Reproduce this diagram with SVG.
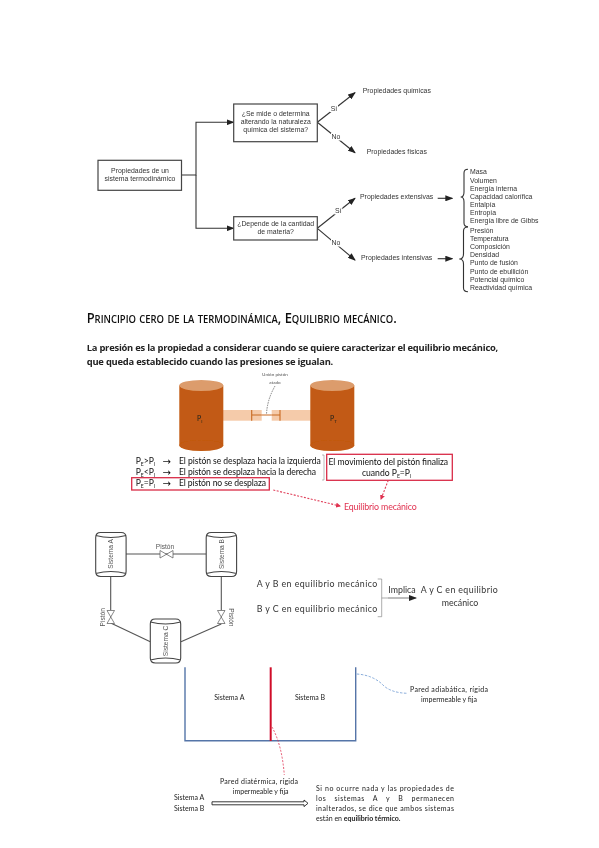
<svg xmlns="http://www.w3.org/2000/svg" width="599" height="848" viewBox="0 0 599 848">
<style>
.box{fill:#fff;stroke:#444;stroke-width:1.2}
.c{fill:none;stroke:#333;stroke-width:1.1}
.t{font-family:"Liberation Sans",Arial,sans-serif;font-size:6.9px;fill:#333}
.m{text-anchor:middle}
.cal{font-family:Lato,"Liberation Sans",sans-serif;fill:#111}
.b9{font-family:"Open Sans","Liberation Sans",sans-serif;font-size:9.4px;font-weight:700;fill:#222}
.p{font-size:8.6px;fill:#111}
.s{font-size:7px;fill:#222}
.sys{font-family:"Liberation Sans",Arial,sans-serif;font-size:6.6px;fill:#555}
.eq{font-family:Lato,"Liberation Sans",sans-serif;font-size:8.8px;fill:#333}
.red{fill:none;stroke:#d92c48;stroke-width:1.3}
.reddash{fill:none;stroke:#e0405a;stroke-width:1.1;stroke-dasharray:2 1.5}
.pipe{fill:none;stroke:#555;stroke-width:1.1}
.wall{fill:none;stroke:#5474a8;stroke-width:1.4}
</style>
<defs>
<marker id="ah" markerWidth="8" markerHeight="6" refX="7" refY="3" orient="auto" markerUnits="userSpaceOnUse"><path d="M0 0L8 3L0 6Z" fill="#222"/></marker>
<marker id="ar" markerWidth="5" markerHeight="5" refX="4" refY="2.5" orient="auto" markerUnits="userSpaceOnUse"><path d="M0 0L5 2.5L0 5Z" fill="#e0304f"/></marker>
<path id="tank" d="M0 5Q0 0 5 0H25.4Q30.4 0 30.4 5V39Q30.4 44 25.4 44H5Q0 44 0 39ZM0 3Q15.2 7 30.4 3M0 41Q15.2 37 30.4 41" fill="#fff" stroke="#444" stroke-width="1.1"/>
<path id="valve" d="M0 0L13 7.5V0L0 7.5Z" fill="#fff" stroke="#555" stroke-width=".7"/>
<g id="cyl"><rect x="0" y="5.5" width="44" height="60" fill="#c25a12"/><ellipse cx="22" cy="65.5" rx="22" ry="5.5" fill="#c25a12"/><ellipse cx="22" cy="5.5" rx="22" ry="5.5" fill="#dc9c6c"/></g>
<filter id="soft" x="0" y="0" width="100%" height="100%" filterUnits="userSpaceOnUse"><feGaussianBlur stdDeviation=".4"/></filter>
</defs>
<rect width="599" height="848" fill="#fff"/>
<g filter="url(#soft)">
<g id="connectors">
<path class="c" d="M181.5 175H196V122.3H233.5" marker-end="url(#ah)"/>
<path class="c" d="M196 175V228.3H233.5" marker-end="url(#ah)"/>
<path class="c" d="M317.3 122.3L355 92.7" marker-end="url(#ah)"/>
<path class="c" d="M317.3 122.3L355 152.7" marker-end="url(#ah)"/>
<path class="c" d="M317.3 228.3L355 198.3" marker-end="url(#ah)"/>
<path class="c" d="M317.3 228.3L355 260" marker-end="url(#ah)"/>
<path class="c" d="M437.7 198.3H452.3" marker-end="url(#ah)"/>
<path class="c" d="M437.7 258.7H452.3" marker-end="url(#ah)"/>
<path class="c" stroke-width=".8" d="M468 169.3Q464 169.3 464 173V192Q464 197 460.7 197Q464 197 464 202V223Q464 226.7 468 226.7"/>
<path class="c" stroke-width=".8" d="M468 227Q463.5 227 463.5 231V254Q463.5 259 459.3 259Q463.5 259 463.5 264V288Q463.5 291.7 468 291.7"/>
</g>
<g id="n-props"><rect class="box" x="98" y="160.3" width="83.5" height="30"/><text class="t m" x="140" y="173">Propiedades de un</text><text class="t m" x="140" y="181">sistema termodinámico</text></g>
<g id="n-q1"><rect class="box" x="233.7" y="104" width="83.6" height="37.7"/><text class="t m" x="275.7" y="116.2">¿Se mide o determina</text><text class="t m" x="275.7" y="124.2">alterando la naturaleza</text><text class="t m" x="275.7" y="132.2">química del sistema?</text></g>
<g id="n-q2"><rect class="box" x="233.7" y="216.7" width="83.6" height="23.3"/><text class="t m" x="275.7" y="225.8">¿Depende de la cantidad</text><text class="t m" x="275.7" y="233.8">de materia?</text></g>
<g id="edge-labels">
<rect x="330" y="104" width="8" height="8" fill="#fff"/><text class="t m" x="334" y="110.5">Sí</text>
<rect x="331" y="133" width="10" height="7.5" fill="#fff"/><text class="t m" x="336" y="139.2">No</text>
<rect x="334.3" y="206.5" width="8" height="8" fill="#fff"/><text class="t m" x="338.3" y="212.8">Sí</text>
<rect x="331" y="239" width="10" height="7.5" fill="#fff"/><text class="t m" x="336" y="245.2">No</text>
</g>
<g id="n-quim"><text class="t" x="362.7" y="93.3">Propiedades químicas</text></g>
<g id="n-fis"><text class="t" x="366.7" y="154">Propiedades físicas</text></g>
<g id="n-ext"><text class="t" x="360" y="199.3">Propiedades extensivas</text></g>
<g id="n-int"><text class="t" x="361" y="260">Propiedades intensivas</text></g>
<g id="n-list1" class="t"><text x="470" y="174.4">Masa</text><text x="470" y="182.6">Volumen</text><text x="470" y="190.7">Energía interna</text><text x="470" y="198.9">Capacidad calorífica</text><text x="470" y="207">Entalpía</text><text x="470" y="215.1">Entropía</text><text x="470" y="223.3">Energía libre de Gibbs</text></g>
<g id="n-list2" class="t"><text x="470" y="232.7">Presión</text><text x="470" y="240.9">Temperatura</text><text x="470" y="249.1">Composición</text><text x="470" y="257.2">Densidad</text><text x="470" y="265.4">Punto de fusión</text><text x="470" y="273.5">Punto de ebullición</text><text x="470" y="281.7">Potencial químico</text><text x="470" y="290">Reactividad química</text></g>

<text id="title" x="86.7" y="322.7" textLength="310" lengthAdjust="spacingAndGlyphs" font-family="'Open Sans','Liberation Sans',sans-serif" font-size="15" font-weight="600" style="font-variant:small-caps" fill="#111">Principio cero de la termodinámica, Equilibrio mecánico.</text>
<text class="b9" x="86.7" y="350.7" textLength="411.6">La presión es la propiedad a considerar cuando se quiere caracterizar el equilibrio mecánico,</text>
<text class="b9" x="86.7" y="365" textLength="246.6">que queda establecido cuando las presiones se igualan.</text>

<g id="n-pistons">
<rect x="220.7" y="410" width="41" height="10.7" fill="#f5cbaa"/><rect x="271.7" y="410" width="41" height="10.7" fill="#f5cbaa"/>
<path d="M251.7 410V420.7M252 415H261.7M280 410V420.7M271.7 415H280" fill="none" stroke="#c86a20" stroke-width="1.1"/>
<path d="M261.7 415H271.7" fill="none" stroke="#c86a20" stroke-width="1"/>
<use href="#cyl" x="179.3" y="380"/><use href="#cyl" x="310.3" y="380"/>
<text class="cal s" x="197" y="421">P<tspan font-size="4.5" dy="1.5">I</tspan></text>
<text class="cal s" x="330" y="421">P<tspan font-size="4.5" dy="1.5">T</tspan></text>
<text class="m" x="275" y="376" font-family="Lato,sans-serif" font-size="4.6" fill="#555">Unión pistón</text><text class="m" x="275" y="383.5" font-family="Lato,sans-serif" font-size="4.6" fill="#555">atado</text>
<path d="M275 386Q267 400 266.5 414.5" fill="none" stroke="#333" stroke-width=".6" stroke-dasharray="1.5 1"/>
</g>
<g id="n-cases" class="cal p">
<text x="135.7" y="464">P<tspan font-size="5" dy="1.5">E</tspan><tspan dy="-1.5">&gt;P</tspan><tspan font-size="5" dy="1.5">I</tspan></text>
<text x="135.7" y="475">P<tspan font-size="5" dy="1.5">E</tspan><tspan dy="-1.5">&lt;P</tspan><tspan font-size="5" dy="1.5">I</tspan></text>
<text x="135.7" y="486">P<tspan font-size="5" dy="1.5">E</tspan><tspan dy="-1.5">=P</tspan><tspan font-size="5" dy="1.5">I</tspan></text>
<text x="162.5" y="464.5" font-size="10" font-family="'DejaVu Sans',sans-serif">→</text><text x="162.5" y="475.5" font-size="10" font-family="'DejaVu Sans',sans-serif">→</text><text x="162.5" y="486.5" font-size="10" font-family="'DejaVu Sans',sans-serif">→</text>
<text x="179" y="464" textLength="141.7">El pistón se desplaza hacia la izquierda</text>
<text x="179" y="475" textLength="137">El pistón se desplaza hacia la derecha</text>
<text x="179" y="486" textLength="87">El pistón no se desplaza</text>
<rect class="red" x="131.7" y="477.7" width="137.6" height="12.3"/>
<path d="M322 455H324V480H322" fill="none" stroke="#777" stroke-width=".5"/>
</g>
<g id="n-fin">
<rect class="red" x="326.7" y="454.3" width="125.6" height="26"/>
<text class="cal p" x="328.5" y="465" textLength="119.5">El movimiento del pistón finaliza</text>
<text class="cal p m" x="386.7" y="476">cuando P<tspan font-size="5" dy="1.5">E</tspan><tspan dy="-1.5">=P</tspan><tspan font-size="5" dy="1.5">I</tspan></text>
</g>
<g id="n-eq"><text x="344" y="510" font-family="Lato,sans-serif" font-size="8.8" textLength="72.7" fill="#e0304f">Equilibrio mecánico</text></g>
<g id="connectors-red">
<path class="reddash" d="M273.3 490L340 506" marker-end="url(#ar)"/>
<path class="reddash" d="M388.3 480.3L381 499" marker-end="url(#ar)"/>
</g>

<g id="connectors-tanks">
<path class="pipe" d="M126 554H206M110.7 576V610M221.3 576V610M110.7 623L150.3 641.7M221.3 624L181 641.7"/>
</g>
<g id="n-a"><use href="#tank" x="95.7" y="532.5"/><text class="sys m" transform="translate(113 554) rotate(-90)">Sistema A</text></g>
<g id="n-b"><use href="#tank" x="206.2" y="532.5"/><text class="sys m" transform="translate(223.5 554) rotate(-90)">Sistema B</text></g>
<g id="n-c"><use href="#tank" x="150.3" y="619"/><text class="sys m" transform="translate(168 641) rotate(-90)">Sistema C</text></g>
<g id="n-v1"><use href="#valve" x="160" y="550.5"/><text class="sys m" x="165" y="548.5" font-size="6">Pistón</text></g>
<g id="n-v2"><use href="#valve" transform="translate(114.5 610.5) rotate(90)"/><text class="sys m" transform="translate(104.5 617.3) rotate(-90)">Pistón</text></g>
<g id="n-v3"><use href="#valve" transform="translate(225 610.5) rotate(90)"/><text class="sys m" transform="translate(229 617.3) rotate(90)">Pistón</text></g>
<g id="n-impl">
<text class="eq" x="256.7" y="587" textLength="120.6">A y B en equilibrio mecánico</text>
<text class="eq" x="256.7" y="612" textLength="120.6">B y C en equilibrio mecánico</text>
<path d="M377.7 579H381.7V616.7H377.7M381.7 598H388" fill="none" stroke="#777" stroke-width=".6"/>
<text class="eq m" x="402" y="593" font-size="7">Implica</text>
<path d="M388 598H416" fill="none" stroke="#444" stroke-width=".7" marker-end="url(#ah)"/>
<text class="eq" x="420.7" y="593" textLength="77">A y C en equilibrio</text>
<text class="eq m" x="460" y="606">mecánico</text>
</g>

<g id="n-walls">
<path class="wall" d="M185 667.3V740.7H355.7V667.3"/>
<path d="M270.7 667.3V741" fill="none" stroke="#d0102a" stroke-width="2"/>
<text class="cal s m" x="229.3" y="700">Sistema A</text>
<text class="cal s m" x="310" y="700">Sistema B</text>
</g>
<path id="c-blue" d="M356.7 674Q372 675 382 684Q390 693 408 693.3" fill="none" stroke="#6a97d0" stroke-width=".8" stroke-dasharray="2.5 1.5"/>
<path id="c-redwall" d="M272 727Q282 745 284.3 775" fill="none" stroke="#e0304f" stroke-width=".8" stroke-dasharray="2 1.5"/>
<g id="n-adi" class="cal s"><text x="410" y="691.5" textLength="78">Pared adiabática, rígida</text><text class="m" x="449" y="701.7">impermeable y fija</text></g>
<g id="n-dia" class="cal s"><text x="220" y="784.2" textLength="78">Pared diatérmica, rígida</text><text class="m" x="260.7" y="794.2">impermeable y fija</text></g>
<g id="n-ab" class="cal s"><text x="174" y="800.3">Sistema A</text><text x="174" y="810.5">Sistema B</text></g>
<path id="c-hollow" d="M212 801.8H304V800L308 803.3L304 806.6V804.8H212Z" fill="#fff" stroke="#222" stroke-width=".9"/>
<g id="n-par" class="cal s">
<text x="316" y="791.3" textLength="138">Si no ocurre nada y las propiedades de</text>
<text x="316" y="800.6" textLength="138" word-spacing="6">los sistemas A y B permanecen</text>
<text x="316" y="810.6" textLength="138">inalterados, se dice que ambos sistemas</text>
<text x="316" y="821">están en <tspan font-weight="700">equilibrio térmico.</tspan></text>
</g>
</g>
</svg>
